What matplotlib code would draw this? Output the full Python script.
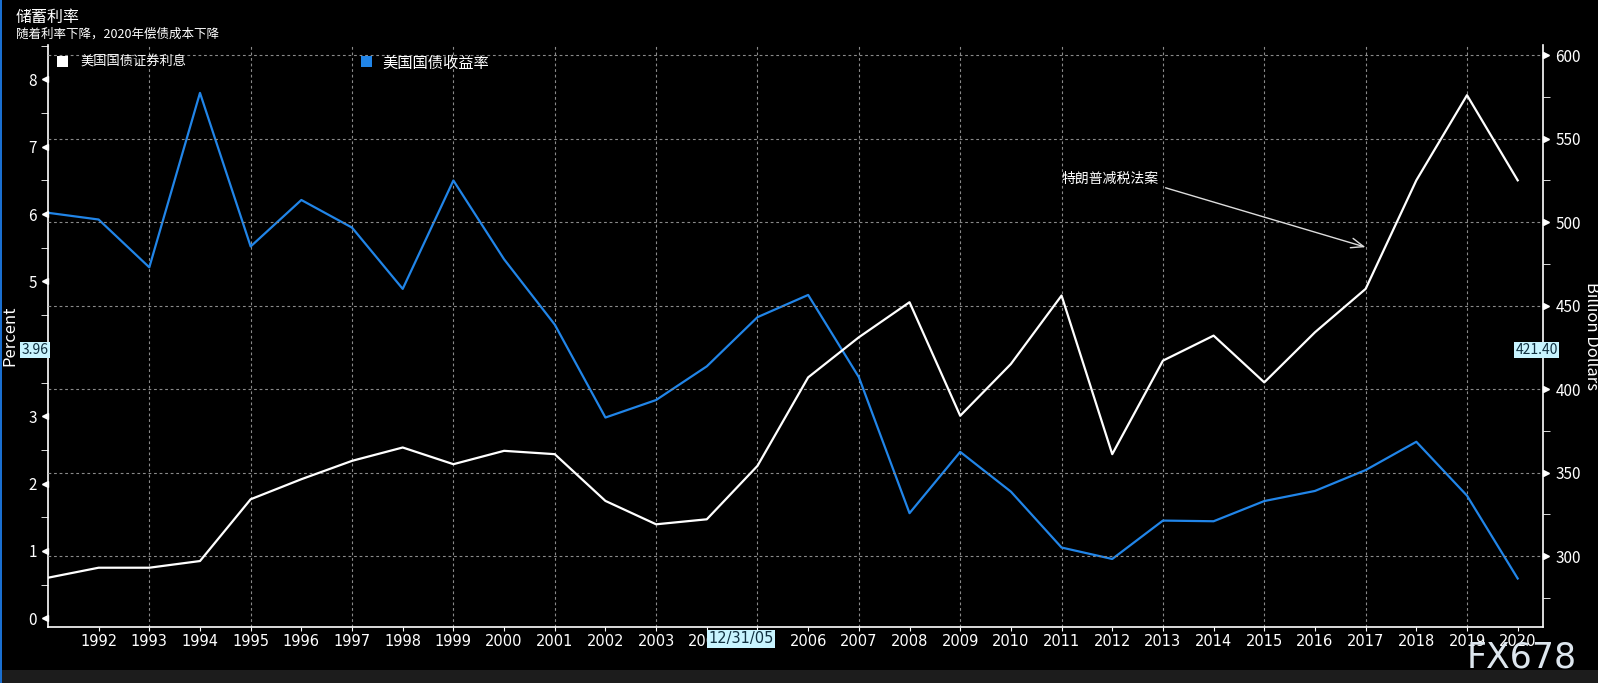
import matplotlib
matplotlib.use("Agg")
import matplotlib.pyplot as plt
from matplotlib.ticker import MultipleLocator
from matplotlib.transforms import offset_copy

plt.rcParams['font.family'] = ['Noto Sans CJK SC', 'DejaVu Sans']

# data
years = list(range(1991, 2021))
yield_pct = [6.02, 5.92, 5.21, 7.80, 5.52, 6.21, 5.80, 4.89, 6.50, 5.33,
             4.36, 2.98, 3.24, 3.74, 4.47, 4.80, 3.58, 1.56, 2.47, 1.88,
             1.05, 0.88, 1.45, 1.44, 1.74, 1.89, 2.20, 2.62, 1.82, 0.59]
interest_bn = [287, 293, 293, 297, 334, 346, 357, 365, 355, 363,
               361, 333, 319, 322, 354, 407, 431, 452, 384, 415,
               456, 361, 417, 432, 404, 434, 460, 525, 576, 525]
label_years = list(range(1992, 2021))

blue = '#2185e8'
grid_c = '#8a8a8a'

fig = plt.figure(figsize=(15.98, 6.83), dpi=100, facecolor='black')
ax = fig.add_axes([0.030, 0.082, 0.9356, 0.852], facecolor='black')
ax2 = ax.twinx()

ax.set_xlim(1991, 2020.5)
ax.set_ylim(-0.13, 8.51)
ax2.set_ylim(257.5, 606)

# gridlines: vertical on odd years, horizontal on right axis
for yr in range(1993, 2020, 2):
    ax.axvline(yr, color=grid_c, lw=0.8, ls=(0, (2.5, 2.5)), zorder=0)
for v in range(300, 601, 50):
    ax2.axhline(v, color=grid_c, lw=0.8, ls=(0, (2.5, 2.5)), zorder=0)

ax.plot(years, yield_pct, color=blue, lw=1.6, zorder=3)
ax2.plot(years, interest_bn, color='white', lw=1.6, zorder=3)

for a in (ax, ax2):
    for s in a.spines.values():
        s.set_visible(False)
ax.spines['left'].set_visible(True)
ax.spines['bottom'].set_visible(True)
ax2.spines['right'].set_visible(True)
for s in (ax.spines['left'], ax.spines['bottom'], ax2.spines['right']):
    s.set_color('white')
    s.set_linewidth(1.2)

ax.set_xticks(label_years)
ax.set_xticklabels([str(y) for y in label_years])
ax.tick_params(axis='x', colors='white', length=3, pad=2)
for t in ax.get_xticklabels():
    t.set_family(['Liberation Sans Narrow', 'DejaVu Sans'])
    t.set_fontsize(10.5)

ax.set_yticks(range(0, 9))
ax.yaxis.set_minor_locator(MultipleLocator(0.5))
ax.tick_params(axis='y', colors='white', labelsize=11, length=0, pad=8)
ax.tick_params(axis='y', which='minor', length=5, color='white')
ax2.set_yticks(range(300, 601, 50))
ax2.yaxis.set_minor_locator(MultipleLocator(25))
ax2.tick_params(axis='y', colors='white', labelsize=11, length=0, pad=9)
ax2.tick_params(axis='y', which='minor', length=5, color='white')

# small triangle pointers at major ticks
tl = offset_copy(ax.get_yaxis_transform(), fig=fig, x=-3, y=0, units='dots')
ax.plot([0] * 9, range(0, 9), marker='<', ms=4, color='white', ls='none',
        transform=tl, clip_on=False, zorder=5)
tr = offset_copy(ax2.get_yaxis_transform(), fig=fig, x=3, y=0, units='dots')
ax2.plot([1] * 7, range(300, 601, 50), marker='>', ms=4, color='white', ls='none',
         transform=tr, clip_on=False, zorder=5)

ax.set_ylabel('Percent', color='white', fontsize=12)
ax.yaxis.set_label_coords(-0.0195, 0.5)
ax2.set_ylabel('Billion Dollars', color='white', fontsize=12, rotation=270, labelpad=14)

# crosshair value boxes
box = dict(boxstyle='square,pad=0.1', fc='#c8f4ff', ec='none')
fig.text(0.0135, 1 - 350 / 683, '3.96', color='#103040', fontsize=10, va='center', ha='left',
         bbox=box)
fig.text(0.9485, 1 - 350 / 683, '421.40', color='#103040', fontsize=10, va='center', ha='left',
         bbox=box)
fig.text(0.4637, 1 - 639 / 683, '12/31/05', color='#103040', fontsize=10.5, va='center',
         ha='center', bbox=box, family=['Liberation Sans Narrow', 'DejaVu Sans'])

# title and subtitle
fig.text(0.010, 1 - 17 / 683, '储蓄利率', color='white', fontsize=11.5, va='center')
fig.text(0.010, 1 - 34 / 683, '随着利率下降，2020年偿债成本下降', color='white', fontsize=9,
         va='center')

# legend
fig.patches.append(plt.Rectangle((57 / 1598, 1 - 67 / 683), 11 / 1598, 11 / 683,
                                 transform=fig.transFigure, fc='white', ec='none'))
fig.text(80 / 1598, 1 - 61 / 683, '美国国债证券利息', color='white', fontsize=9.5, va='center')
fig.patches.append(plt.Rectangle((361 / 1598, 1 - 67 / 683), 11 / 1598, 11 / 683,
                                 transform=fig.transFigure, fc=blue, ec='none'))
fig.text(382 / 1598, 1 - 63 / 683, '美国国债收益率', color='white', fontsize=11, va='center')

# annotation
ax2.annotate('', xy=(2017.05, 484.5), xytext=(2013.0, 521),
             arrowprops=dict(arrowstyle='->,head_length=0.9,head_width=0.35', color='#dddddd',
                             lw=1.0))
ax2.text(2011.0, 526, '特朗普减税法案', color='white', fontsize=10, va='center', ha='left')

# watermark and frame
fig.text(0.918, 1 - 657 / 683, 'FX678', color='#dde6ee', fontsize=25, va='center', ha='left',
         family='DejaVu Sans')
fig.patches.append(plt.Rectangle((0, 0), 1, 13 / 683, transform=fig.transFigure,
                                 fc='#1c1c1c', ec='none', zorder=-1))
fig.patches.append(plt.Rectangle((0, 0), 2 / 1598, 1, transform=fig.transFigure,
                                 fc='#1a6fd0', ec='none'))

fig.savefig('out.png', dpi=100, facecolor='black')
